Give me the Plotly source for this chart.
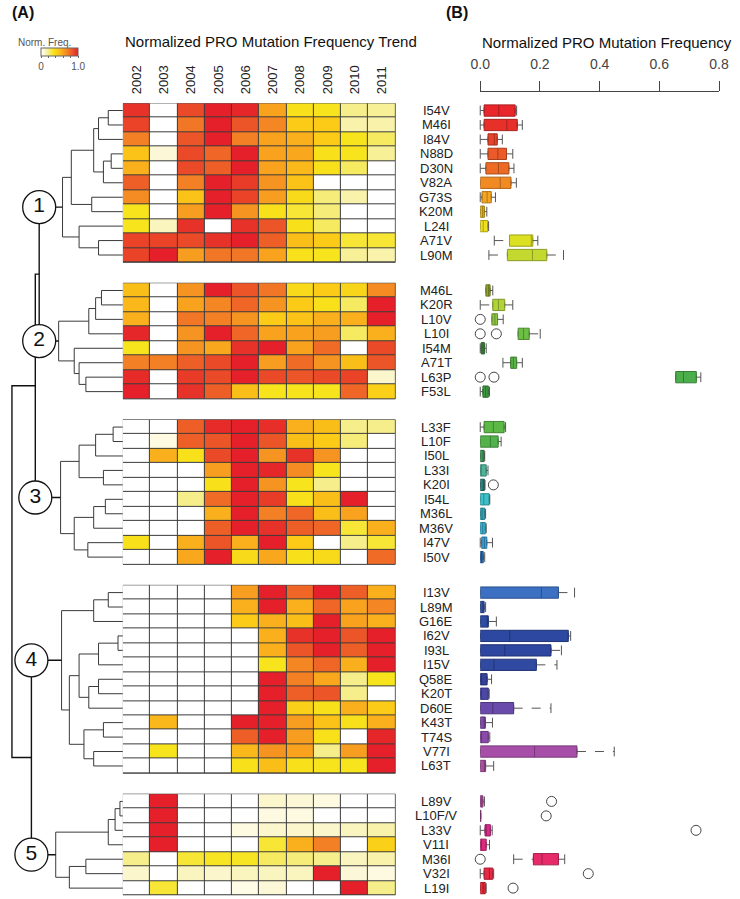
import plotly.graph_objects as go

# ---------------- data ----------------
years = ['2002', '2003', '2004', '2005', '2006', '2007', '2008', '2009', '2010', '2011']

labels_g1 = ['I54V', 'M46I', 'I84V', 'N88D', 'D30N', 'V82A', 'G73S', 'K20M', 'L24I', 'A71V', 'L90M']
labels_g2 = ['M46L', 'K20R', 'L10V', 'L10I', 'I54M', 'A71T', 'L63P', 'F53L']
labels_g3 = ['L33F', 'L10F', 'I50L', 'L33I', 'K20I', 'I54L', 'M36L', 'M36V', 'I47V', 'I50V']
labels_g4 = ['I13V', 'L89M', 'G16E', 'I62V', 'I93L', 'I15V', 'Q58E', 'K20T', 'D60E', 'K43T', 'T74S', 'V77I', 'L63T']
labels_g5 = ['L89V', 'L10F/V', 'L33V', 'V11I', 'M36I', 'V32I', 'L19I']

heat_g1 = [
    [0.95, 0.0, 0.88, 1.0, 0.98, 0.60, 0.35, 0.33, 0.20, 0.18],
    [0.90, 0.0, 0.75, 1.0, 0.85, 0.70, 0.45, 0.45, 0.15, 0.15],
    [0.72, 0.0, 0.85, 1.0, 0.72, 0.60, 0.55, 0.45, 0.33, 0.25],
    [0.48, 0.08, 0.88, 0.80, 1.0, 0.60, 0.58, 0.35, 0.33, 0.18],
    [0.55, 0.0, 0.88, 0.82, 1.0, 0.60, 0.52, 0.35, 0.25, 0.0],
    [0.82, 0.0, 0.72, 1.0, 0.92, 0.65, 0.48, 0.0, 0.0, 0.0],
    [0.68, 0.0, 0.48, 1.0, 0.90, 0.62, 0.38, 0.22, 0.15, 0.0],
    [0.33, 0.0, 0.62, 1.0, 0.65, 0.35, 0.30, 0.22, 0.0, 0.0],
    [0.33, 0.12, 0.95, 0.0, 0.95, 0.85, 0.35, 0.25, 0.0, 0.0],
    [0.90, 0.90, 0.88, 0.95, 1.0, 0.82, 0.50, 0.45, 0.30, 0.30],
    [0.90, 1.0, 0.62, 0.75, 0.75, 0.60, 0.35, 0.33, 0.18, 0.15],
]
heat_g2 = [
    [0.50, 0.0, 0.65, 1.0, 0.85, 0.75, 0.38, 0.45, 0.40, 0.68],
    [0.52, 0.0, 0.60, 0.70, 0.80, 0.65, 0.45, 0.35, 0.25, 1.0],
    [0.55, 0.0, 0.75, 0.72, 0.65, 0.45, 0.48, 0.55, 0.55, 1.0],
    [0.98, 0.0, 0.65, 1.0, 0.80, 0.60, 0.60, 0.62, 0.25, 0.55],
    [0.33, 0.0, 0.65, 0.58, 0.95, 1.0, 0.60, 0.78, 0.0, 0.88],
    [0.72, 0.72, 0.82, 0.88, 1.0, 0.62, 0.78, 0.65, 0.50, 0.85],
    [0.97, 0.0, 0.92, 0.88, 1.0, 0.88, 0.85, 0.88, 0.90, 0.10],
    [1.0, 0.0, 0.95, 0.82, 0.50, 0.33, 0.33, 0.33, 0.80, 0.42],
]
heat_g3 = [
    [0.0, 0.0, 0.82, 0.97, 1.0, 0.96, 0.55, 0.50, 0.20, 0.20],
    [0.0, 0.06, 0.82, 0.85, 1.0, 0.85, 0.50, 0.45, 0.22, 0.0],
    [0.0, 0.55, 0.35, 0.88, 1.0, 0.65, 0.95, 0.65, 0.0, 0.0],
    [0.0, 0.0, 0.0, 0.62, 1.0, 0.98, 0.68, 0.33, 0.0, 0.0],
    [0.0, 0.0, 0.0, 0.35, 1.0, 0.65, 0.33, 0.20, 0.0, 0.0],
    [0.0, 0.0, 0.20, 0.78, 1.0, 0.92, 0.35, 0.50, 1.0, 0.0],
    [0.0, 0.0, 0.0, 0.55, 1.0, 0.72, 0.80, 0.50, 0.60, 0.0],
    [0.0, 0.0, 0.0, 0.82, 1.0, 0.95, 0.82, 0.80, 0.30, 0.55],
    [0.35, 0.0, 0.55, 0.85, 0.55, 1.0, 0.45, 0.0, 0.20, 0.30],
    [0.0, 0.0, 0.58, 1.0, 0.38, 0.58, 0.35, 0.38, 0.0, 0.78],
]
heat_g4 = [
    [0.0, 0.0, 0.0, 0.0, 0.62, 1.0, 0.80, 1.0, 0.82, 0.55],
    [0.0, 0.0, 0.0, 0.0, 0.55, 1.0, 0.55, 0.80, 0.60, 0.70],
    [0.0, 0.0, 0.0, 0.0, 0.45, 0.55, 0.50, 1.0, 0.60, 0.55],
    [0.0, 0.0, 0.0, 0.0, 0.0, 0.55, 0.95, 1.0, 0.85, 1.0],
    [0.0, 0.0, 0.0, 0.0, 0.0, 0.55, 0.85, 1.0, 0.82, 1.0],
    [0.0, 0.0, 0.0, 0.0, 0.0, 0.33, 0.70, 0.80, 0.55, 1.0],
    [0.0, 0.0, 0.0, 0.0, 0.0, 1.0, 0.72, 0.58, 0.20, 0.33],
    [0.0, 0.0, 0.0, 0.0, 0.0, 1.0, 0.82, 0.85, 0.20, 0.0],
    [0.0, 0.0, 0.0, 0.0, 0.0, 1.0, 0.42, 0.35, 0.55, 0.45],
    [0.0, 0.52, 0.0, 0.0, 1.0, 1.0, 0.62, 0.48, 0.35, 0.55],
    [0.0, 0.0, 0.0, 0.0, 0.82, 1.0, 0.62, 0.35, 0.0, 0.98],
    [0.0, 0.33, 0.0, 0.0, 0.52, 0.65, 0.60, 0.20, 0.62, 1.0],
    [0.0, 0.0, 0.0, 0.0, 0.35, 0.50, 0.35, 0.33, 0.33, 1.0],
]
heat_g5 = [
    [0.0, 1.0, 0.0, 0.0, 0.0, 0.10, 0.08, 0.06, 0.0, 0.0],
    [0.0, 1.0, 0.0, 0.0, 0.0, 0.06, 0.06, 0.0, 0.0, 0.0],
    [0.0, 1.0, 0.0, 0.0, 0.06, 0.10, 0.10, 0.10, 0.12, 0.15],
    [0.0, 1.0, 0.0, 0.0, 0.0, 0.30, 0.55, 0.72, 0.0, 0.42],
    [0.20, 0.0, 0.30, 0.32, 0.32, 0.25, 0.22, 0.20, 0.12, 0.15],
    [0.10, 0.0, 0.12, 0.10, 0.12, 0.12, 0.12, 1.0, 0.08, 0.06],
    [0.0, 0.30, 0.0, 0.0, 0.05, 0.08, 0.0, 0.0, 1.0, 0.20],
]

# box-plot statistics per row (lower whisker, q1, median, q3, upper whisker)
box_lo = [0.0, 0.0, 0.0, 0.0, 0.0, 0.0, 0.0, 0.0, 0.0, 0.047, 0.029,
          0.019, 0.0, 0.039, 0.127, 0.0, 0.076, 0.655, 0.0,
          0.0, 0.0, 0.0, 0.0, 0.0, 0.0, 0.0, 0.0, 0.0, 0.0,
          0.0, 0.0, 0.0, 0.0, 0.0, 0.0, 0.0, 0.0, 0.0, 0.0, 0.0, 0.0, 0.0,
          0.0, 0.0, 0.0, 0.0, 0.112, 0.0, 0.0]
box_q1 = [0.013, 0.013, 0.026, 0.026, 0.019, 0.0, 0.006, 0.0, 0.0, 0.098, 0.091,
          0.019, 0.042, 0.039, 0.127, 0.003, 0.102, 0.655, 0.009,
          0.013, 0.0, 0.0, 0.0, 0.0, 0.0, 0.0, 0.0, 0.005, 0.0,
          0.0, 0.0, 0.0, 0.0, 0.0, 0.0, 0.0, 0.0, 0.0, 0.0, 0.0, 0.0, 0.0,
          0.0, 0.0, 0.016, 0.0, 0.178, 0.013, 0.0]
box_med = [0.062, 0.089, 0.047, 0.059, 0.061, 0.067, 0.023, 0.008, 0.010, 0.171, 0.175,
           0.028, 0.061, 0.049, 0.145, 0.009, 0.111, 0.681, 0.018,
           0.044, 0.034, 0.011, 0.002, 0.012, 0.012, 0.006, 0.008, 0.014, 0.004,
           0.205, 0.009, 0.024, 0.099, 0.082, 0.046, 0.002, 0.003, 0.042, 0.014, 0.004, 0.182, 0.014,
           0.002, 0.0, 0.020, 0.004, 0.207, 0.031, 0.010]
box_q3 = [0.117, 0.124, 0.057, 0.088, 0.096, 0.103, 0.037, 0.014, 0.025, 0.176, 0.223,
          0.033, 0.082, 0.058, 0.164, 0.014, 0.122, 0.724, 0.027,
          0.080, 0.060, 0.013, 0.020, 0.014, 0.030, 0.015, 0.017, 0.022, 0.010,
          0.262, 0.013, 0.027, 0.295, 0.237, 0.188, 0.023, 0.027, 0.112, 0.017, 0.027, 0.324, 0.018,
          0.009, 0.002, 0.034, 0.020, 0.262, 0.042, 0.017]
box_hi = [0.122, 0.141, 0.074, 0.109, 0.113, 0.121, 0.051, 0.022, 0.028, 0.193, 0.279,
          0.042, 0.109, 0.077, 0.201, 0.020, 0.141, 0.739, 0.031,
          0.085, 0.070, 0.015, 0.026, 0.016, 0.032, 0.018, 0.020, 0.041, 0.015,
          0.316, 0.018, 0.054, 0.303, 0.272, 0.257, 0.038, 0.030, 0.237, 0.041, 0.032, 0.449, 0.045,
          0.014, 0.002, 0.040, 0.031, 0.283, 0.045, 0.020]
box_outliers = [[], [], [], [], [], [], [], [], [], [], [],
                [-0.005], [], [0.0], [0.0, 0.054], [], [], [0.0, 0.046], [],
                [], [], [], [], [0.044], [], [], [], [], [],
                [], [], [], [], [], [], [], [], [], [], [], [], [],
                [0.239], [0.221], [0.723], [], [0.0], [0.362], [0.11]]
box_colors = ['#E8262B', '#E8302B', '#E6452A', '#EB5A28', '#EE6B26', '#F28A23', '#F5A620', '#E2B21C',
              '#EEDF21', '#DCE022', '#C3D930',
              '#8FA52C', '#B0D33A', '#8CC641', '#6DBE45', '#3B8A3C', '#5AB347', '#4CAE4A', '#3E9A40',
              '#5CB946', '#52B34A', '#3D9B5A', '#4FB39A', '#2E7F7A', '#3EC0CB', '#30A8B8', '#32B3D6',
              '#3A9FDA', '#2F6DB3',
              '#3C70C2', '#2F52A8', '#2D4CA3', '#2C48A1', '#2D46A0', '#304AA2', '#35429C', '#4B47A6',
              '#6A4AAA', '#7D4AA8', '#8A4AA8', '#A64EA8', '#A8509F',
              '#B24FA0', '#9C3C86', '#D42C8C', '#D82D7F', '#E62A6A', '#E82945', '#E82A3A']

# dendrograms: [height, left, right]; leaves are local row indices
tree_g1 = [62, [53, [30, [25, [15, 0, 1], 2], [20, [12, 3, 4], 5]], [32, 6, 7]], [45, 8, [25, 9, 10]]]
tree_g2 = [66, [35, [28, [22, 0, 1], 2], 3], [50, 4, [45, 5, [38, 6, 7]]]]
tree_g3 = [64, [45, [28, [10, 0, 1], 2], [20, 3, 4]], [50, [30, [18, 5, 6], 7], [36, 8, 9]]]
tree_g4 = [63, [30, [15, 0, 1], 2], [55, [45, [25, [5, 3, 4], 5], [35, [25, 6, 7], 8]], [40, [20, 9, 10], [30, 11, 12]]]]
tree_g5 = [69, [15, [8, [3, 0, 1], 2], 3], [55, [38, 4, 5], 6]]
tree_top = [114, [90, [86, 'G1', 'G2'], 'G3'], [94, 'G4', 'G5']]
group_names = ['1', '2', '3', '4', '5']

# ---------------- layout helpers ----------------
W, H = 740, 899
ROW_PX = 14.45
GAP_PX = 21.0
TOP_PX = 103.3
gap_u = GAP_PX / ROW_PX

groups_labels = [labels_g1, labels_g2, labels_g3, labels_g4, labels_g5]
groups_heat = [heat_g1, heat_g2, heat_g3, heat_g4, heat_g5]
group_trees = [tree_g1, tree_g2, tree_g3, tree_g4, tree_g5]

row_pos = []
group_start = []
off = 0.0
for gi, labs in enumerate(groups_labels):
    group_start.append(off)
    for r in range(len(labs)):
        row_pos.append(off + r + 0.5)
    off += len(labs) + gap_u
total_u = off - gap_u
bottom_px = TOP_PX + total_u * ROW_PX


def px(xp):
    return xp / W


def py(yp):
    return 1 - yp / H


fig = go.Figure()

# dark backgrounds that show through the cell gaps as grid lines
for gi, labs in enumerate(groups_labels):
    y0 = group_start[gi]
    y1 = y0 + len(labs)
    fig.add_shape(type='rect', xref='x', yref='y', x0=-0.5, x1=len(years) - 0.5, y0=y0, y1=y1,
                  fillcolor='#3c3c3c', line=dict(color='#3c3c3c', width=1), layer='below')

colorscale = [[0, '#FFFFFF'], [0.04, '#FEFCEC'], [0.1, '#FBF6CC'], [0.2, '#F6EE8A'], [0.33, '#F7E41C'],
              [0.45, '#FBCB17'], [0.58, '#F9A81D'], [0.72, '#F38025'], [0.85, '#EC5527'], [1, '#E5202A']]

start = 0
for gi, labs in enumerate(groups_labels):
    n = len(labs)
    fig.add_trace(go.Heatmap(z=groups_heat[gi], x=list(range(len(years))), y=row_pos[start:start + n],
                             coloraxis='coloraxis', xgap=1, ygap=1, hoverinfo='skip',
                             xaxis='x', yaxis='y'))
    start += n

# row labels
all_labels = [l for labs in groups_labels for l in labs]
for lab, yp in zip(all_labels, row_pos):
    fig.add_annotation(x=px(438), xref='paper', y=yp, yref='y', text=lab, showarrow=False,
                       xanchor='center', yanchor='middle', font=dict(size=13, color='#222'))

# ---------------- dendrogram ----------------
seg_x, seg_y = [], []
top_x, top_y = [], []


def layout_tree(node, leaf_y):
    if isinstance(node, (int, str)):
        return 0.0, leaf_y(node)
    h, a, b = node
    xa, ya = layout_tree(a, leaf_y)
    xb, yb = layout_tree(b, leaf_y)
    seg_x.extend([xa, h, h, xb, None])
    seg_y.extend([ya, ya, yb, yb, None])
    return h, (ya + yb) / 2


group_roots = {}
start = 0
for gi, labs in enumerate(groups_labels):
    base = start
    hx, hy = layout_tree(group_trees[gi], lambda i, base=base: row_pos[base + i])
    group_roots['G%d' % (gi + 1)] = (hx, hy)
    start += len(labs)

circ = {}


def layout_top(node):
    if isinstance(node, str):
        return group_roots[node]
    h, a, b = node
    xa, ya = layout_top(a)
    xb, yb = layout_top(b)
    top_x.extend([xa, h, h, xb, None])
    top_y.extend([ya, ya, yb, yb, None])
    for ch, yy in ((a, ya), (b, yb)):
        if isinstance(ch, str):
            circ[ch] = (h, yy)
    return h, (ya + yb) / 2


rx, ry = layout_top(tree_top)

fig.add_trace(go.Scatter(x=seg_x, y=seg_y, mode='lines', line=dict(color='#3a3a3a', width=1),
                         xaxis='x2', yaxis='y', hoverinfo='skip', showlegend=False, cliponaxis=False))
fig.add_trace(go.Scatter(x=top_x, y=top_y, mode='lines', line=dict(color='#111', width=1.4),
                         xaxis='x2', yaxis='y', hoverinfo='skip', showlegend=False, cliponaxis=False))

cx, cy, ct = [], [], []
for i in range(5):
    g = 'G%d' % (i + 1)
    cx.append(circ[g][0]); cy.append(circ[g][1]); ct.append(group_names[i])

fig.add_trace(go.Scatter(x=cx, y=cy, mode='markers+text', text=ct, textposition='middle center',
                         textfont=dict(size=21, color='#111'),
                         marker=dict(size=33, color='white', line=dict(color='#111', width=1.3)),
                         xaxis='x2', yaxis='y', hoverinfo='skip', showlegend=False, cliponaxis=False))

# ---------------- box plots ----------------
def darker(hexc, f=0.72):
    r, g, b = int(hexc[1:3], 16), int(hexc[3:5], 16), int(hexc[5:7], 16)
    return 'rgb(%d,%d,%d)' % (r * f, g * f, b * f)


for i in range(len(all_labels)):
    fig.add_trace(go.Box(y=[row_pos[i]], q1=[box_q1[i]], median=[box_med[i]], q3=[box_q3[i]],
                         lowerfence=[box_q1[i]], upperfence=[box_q3[i]], orientation='h',
                         fillcolor=box_colors[i], line=dict(color=darker(box_colors[i]), width=1),
                         width=0.78, boxpoints=False, xaxis='x3', yaxis='y', hoverinfo='skip',
                         showlegend=False))

wx, wy, capx, capy = [], [], [], []
for i in range(len(all_labels)):
    if box_lo[i] < box_q1[i]:
        wx.extend([box_lo[i], box_q1[i], None]); wy.extend([row_pos[i], row_pos[i], None])
        capx.append(box_lo[i]); capy.append(row_pos[i])
    if box_hi[i] > box_q3[i]:
        wx.extend([box_q3[i], box_hi[i], None]); wy.extend([row_pos[i], row_pos[i], None])
        capx.append(box_hi[i]); capy.append(row_pos[i])
fig.add_trace(go.Scatter(x=wx, y=wy, mode='lines', line=dict(color='#555', width=1, dash='dash'),
                         xaxis='x3', yaxis='y', hoverinfo='skip', showlegend=False, cliponaxis=False))
fig.add_trace(go.Scatter(x=capx, y=capy, mode='markers',
                         marker=dict(symbol='line-ns', size=7, line=dict(color='#555', width=1)),
                         xaxis='x3', yaxis='y', hoverinfo='skip', showlegend=False, cliponaxis=False))
ox, oy = [], []
for i, outs in enumerate(box_outliers):
    for v in outs:
        ox.append(v); oy.append(row_pos[i])
fig.add_trace(go.Scatter(x=ox, y=oy, mode='markers',
                         marker=dict(symbol='circle-open', size=10, color='#444', line=dict(width=1)),
                         xaxis='x3', yaxis='y', hoverinfo='skip', showlegend=False, cliponaxis=False))

# ---------------- axes & layout ----------------
fig.update_layout(
    width=W, height=H, margin=dict(l=0, r=0, t=0, b=0),
    paper_bgcolor='white', plot_bgcolor='white',
    font=dict(family='Liberation Sans, Arial, sans-serif', color='#222'),
    showlegend=False,
    coloraxis=dict(colorscale=colorscale, cmin=0, cmax=1,
                   colorbar=dict(orientation='h', x=px(32), y=py(48), xanchor='left', yanchor='top',
                                 lenmode='pixels', len=37, thickness=8, xpad=0, ypad=0,
                                 outlinewidth=1, outlinecolor='#666', borderwidth=0,
                                 tickvals=[0, 0.2, 0.4, 0.6, 0.8, 1.0], ticktext=['0', '', '', '', '', '1.0'],
                                 ticks='outside', ticklen=2, tickcolor='#666',
                                 tickfont=dict(size=10, color='#555'))),
    xaxis=dict(domain=[px(116), px(396.3)], range=[-0.5, len(years) - 0.5], side='top',
               tickmode='array', tickvals=list(range(len(years))), ticktext=years, tickangle=-90,
               tickfont=dict(size=13, color='#222'), showgrid=False, zeroline=False, showline=False,
               ticks='', ticklabelstandoff=8, anchor='y'),
    yaxis=dict(domain=[py(bottom_px), py(TOP_PX)], range=[total_u, 0], showticklabels=False,
               showgrid=False, zeroline=False, showline=False, ticks=''),
    xaxis2=dict(domain=[0, px(116)], range=[116, 0], visible=False, anchor='y'),
    xaxis3=dict(domain=[px(483.3), px(728.7)], range=[0, 0.8], side='top', anchor='free',
                position=py(90.7), tickvals=[0, 0.2, 0.4, 0.6, 0.8],
                ticktext=['0.0', '0.2', '0.4', '0.6', '0.8'], ticks='outside', ticklen=10,
                tickcolor='#444', showline=True, linecolor='#444', linewidth=1,
                tickfont=dict(size=14, color='#444'), ticklabelstandoff=6,
                showgrid=False, zeroline=False),
)

fig.add_annotation(x=px(35.5), xref='paper', y=py(42), yref='paper', text='Norm. Freq.', showarrow=False,
                   xanchor='center', yanchor='middle', font=dict(size=10, color='#555'))
fig.add_annotation(x=0, xref='paper', y=py(12), yref='paper', text='<b>(A)</b>', showarrow=False,
                   xanchor='left', yanchor='middle', font=dict(size=16, color='#111'))
fig.add_annotation(x=px(446), xref='paper', y=py(12), yref='paper', text='<b>(B)</b>', showarrow=False,
                   xanchor='left', yanchor='middle', font=dict(size=16, color='#111'))
fig.add_annotation(x=px(268), xref='paper', y=py(41), yref='paper',
                   text='Normalized PRO Mutation Frequency Trend', showarrow=False,
                   xanchor='center', yanchor='middle', font=dict(size=15, color='#111'))
fig.add_annotation(x=px(614), xref='paper', y=py(42), yref='paper',
                   text='Normalized PRO Mutation Frequency', showarrow=False,
                   xanchor='center', yanchor='middle', font=dict(size=15, color='#111'))

fig.write_html('out.html', config={'displayModeBar': False},
               post_script="document.body.style.margin='0px';")
